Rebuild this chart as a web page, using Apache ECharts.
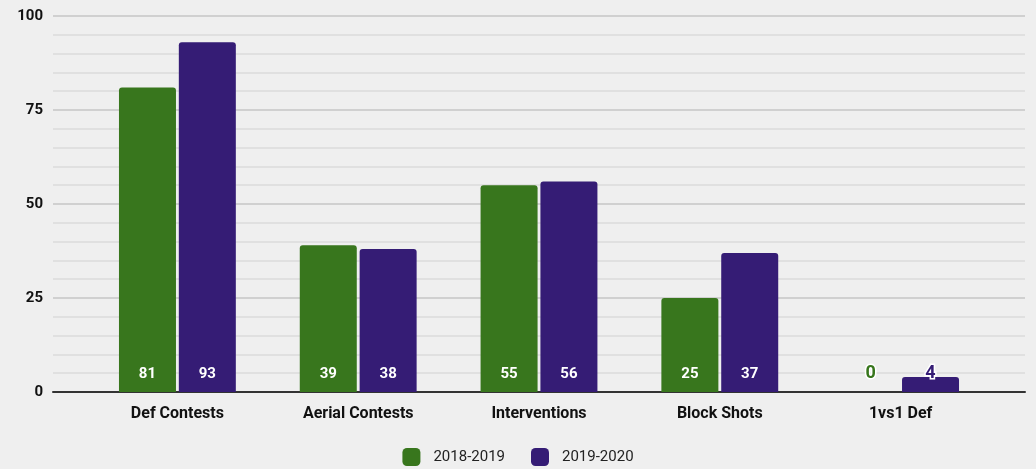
<!DOCTYPE html>
<html>
<head>
<meta charset="utf-8">
<script src="https://cdn.jsdelivr.net/npm/echarts@6/dist/echarts.min.js"></script>
<style>
  html, body { margin: 0; padding: 0; background: #efefef; }
  #chart { width: 1036px; height: 469px; }
</style>
</head>
<body>
<div id="chart"></div>
<script>
// data
var categories = ['Def Contests', 'Aerial Contests', 'Interventions', 'Block Shots', '1vs1 Def'];
var season1 = [81, 39, 55, 25, 0];
var season2 = [93, 38, 56, 37, 4];
var seasonNames = ['2018-2019', '2019-2020'];
var yTicks = [0, 25, 50, 75, 100];

var green = '#38761d';
var purple = '#351c75';
var font = 'Roboto, "Liberation Sans", sans-serif';

// bars too short for a white label get the outlined series-coloured one
function toData (values, color) {
  return values.map(function (v) {
    if (v < 10) {
      return {
        value: v,
        label: { color: color, textBorderColor: '#fff', textBorderWidth: 3, fontSize: 18 }
      };
    }
    return v;
  });
}

var barLabel = {
  show: true,
  position: 'insideBottom',
  distance: 10,
  color: '#fff',
  fontFamily: font,
  fontWeight: 'bold',
  fontSize: 15
};

var chart = echarts.init(document.getElementById('chart'));
chart.setOption({
  backgroundColor: '#efefef',
  animation: false,
  textStyle: { fontFamily: font },
  legend: {
    bottom: -2,
    left: 'center',
    itemWidth: 18,
    itemHeight: 18,
    itemGap: 26,
    icon: 'roundRect',
    textStyle: { fontSize: 15, color: '#222', fontFamily: font, padding: [0, 0, 0, 8] },
    data: seasonNames
  },
  grid: [
    { left: 53, right: 11, top: 16, bottom: 77 },
    { left: 87, right: 45, top: 16, bottom: 77 }
  ],
  xAxis: [
    {
      gridIndex: 0,
      type: 'category',
      data: categories,
      axisLine: { show: true, lineStyle: { color: '#333', width: 2 } },
      axisTick: { show: false },
      axisLabel: { show: false }
    },
    {
      gridIndex: 1,
      type: 'category',
      data: categories,
      axisLine: { show: false },
      axisTick: { show: false },
      axisLabel: { color: '#111', fontWeight: 'bold', fontSize: 16, margin: 14, fontFamily: font }
    }
  ],
  yAxis: [
    {
      gridIndex: 0,
      type: 'value',
      min: yTicks[0],
      max: yTicks[yTicks.length - 1],
      interval: 25,
      axisLine: { show: false },
      axisTick: { show: false },
      axisLabel: { color: '#111', fontWeight: 'bold', fontSize: 15, margin: 10, fontFamily: font },
      splitLine: { lineStyle: { color: '#c6c6c6', width: 1.5 } },
      minorTick: { show: false, splitNumber: 5 },
      minorSplitLine: { show: true, lineStyle: { color: '#dcdcdc', width: 1.5 } }
    },
    {
      gridIndex: 1,
      type: 'value',
      min: 0,
      max: 100,
      show: false
    }
  ],
  series: [
    {
      name: seasonNames[0],
      type: 'bar',
      xAxisIndex: 1,
      yAxisIndex: 1,
      barWidth: 57,
      barGap: '5%',
      itemStyle: { color: green, borderRadius: [3, 3, 0, 0] },
      label: barLabel,
      data: toData(season1, green),
      z: 3
    },
    {
      name: seasonNames[1],
      type: 'bar',
      xAxisIndex: 1,
      yAxisIndex: 1,
      barWidth: 57,
      barGap: '5%',
      itemStyle: { color: purple, borderRadius: [3, 3, 0, 0] },
      label: barLabel,
      data: toData(season2, purple),
      z: 3
    }
  ]
});
</script>
</body>
</html>
